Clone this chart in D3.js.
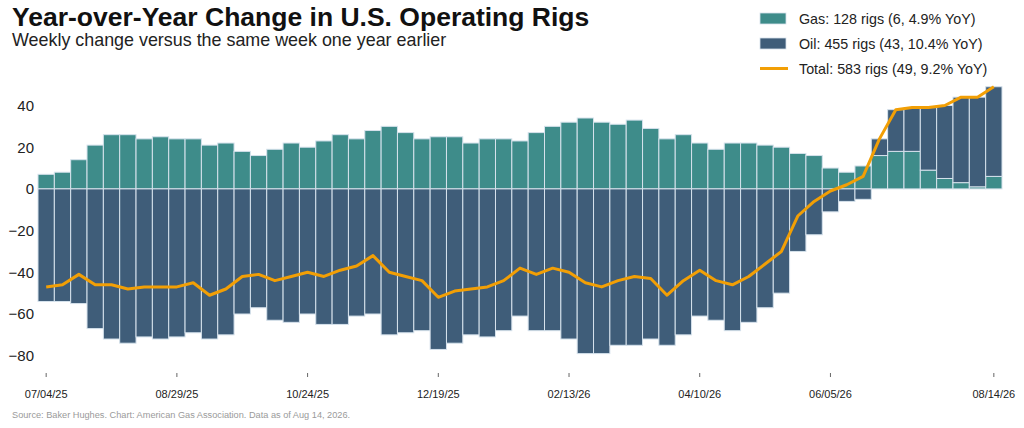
<!DOCTYPE html>
<html>
<head>
<meta charset="utf-8">
<script src="https://cdn.jsdelivr.net/npm/d3@7"></script>
<style>
  body { margin: 0; background: #fff; }
  svg { display: block; font-family: 'Liberation Sans', Arial, sans-serif; }
  .chart-title { font-size: 26.5px; font-weight: bold; fill: #111; }
  .chart-subtitle { font-size: 17.9px; fill: #222; }
  .legend-label { font-size: 14.3px; fill: #222; }
  .axis text { fill: #222; }
  .source { font-size: 9.2px; fill: #9a9a9a; }
</style>
</head>
<body>
<div id="chart"></div>
<script>
// weekly dates, 07/04/25 .. 08/14/26
const weeks = d3.range(59).map((i) => d3.timeWeek.offset(new Date(2025, 6, 4), i));

const gasChange = [
  7, 8, 14, 21, 26, 26, 24, 25, 24, 24,
  21, 22, 18, 16, 19, 22, 20, 23, 26, 24,
  28, 30, 27, 24, 25, 25, 22, 24, 24, 23,
  27, 30, 32, 34, 32, 31, 33, 29, 24, 26,
  22, 19, 22, 22, 21, 20, 17, 16, 10, 8,
  11, 16, 18, 18, 9, 5, 3, 1, 6,
];

const oilChange = [
  -54, -54, -55, -67, -72, -74, -71, -72, -71, -69,
  -72, -70, -60, -57, -63, -64, -60, -65, -65, -61,
  -60, -70, -69, -68, -77, -74, -70, -71, -68, -61,
  -68, -68, -72, -79, -79, -75, -75, -72, -75, -70,
  -61, -63, -68, -64, -57, -50, -30, -22, -11, -6,
  -5, 8, 20, 21, 30, 35, 41, 43, 43,
];

const totalChange = [
  -47, -46, -41, -46, -46, -48, -47, -47, -47, -45,
  -51, -48, -42, -41, -44, -42, -40, -42, -39, -37,
  -32, -40, -42, -44, -52, -49, -48, -47, -44, -38,
  -41, -38, -40, -45, -47, -44, -42, -43, -51, -44,
  -39, -44, -46, -42, -36, -30, -13, -6, -1, 2,
  6, 24, 38, 39, 39, 40, 44, 44, 49,
];

const yTicks = [-80, -60, -40, -20, 0, 20, 40];
const xTickIdx = [0, 8, 16, 24, 32, 40, 48, 58];

const legendItems = [
  { label: 'Gas: 128 rigs (6, 4.9% YoY)', type: 'rect', color: '#3e8c8a' },
  { label: 'Oil: 455 rigs (43, 10.4% YoY)', type: 'rect', color: '#3f5d79' },
  { label: 'Total: 583 rigs (49, 9.2% YoY)', type: 'line', color: '#f29f05' },
];

const width = 1024;
const height = 428;
const colors = { gas: '#3e8c8a', oil: '#3f5d79', total: '#f29f05' };

const rows = weeks.map((d, i) => ({
  date: d,
  gas: gasChange[i],
  oil: oilChange[i],
  total: totalChange[i],
}));

const svg = d3.select('#chart')
  .append('svg')
  .attr('width', width)
  .attr('height', height);

const xScale = d3.scaleBand()
  .domain(rows.map((d) => d.date))
  .range([38, 1002])
  .padding(0);

const yScale = d3.scaleLinear()
  .domain([-80, 40])
  .range([355.7, 105.5]);

// bars
const barG = svg.append('g');

barG.selectAll('.bar-gas')
  .data(rows)
  .join('rect')
  .attr('class', 'bar-gas')
  .attr('x', (d) => xScale(d.date))
  .attr('width', xScale.bandwidth())
  .attr('y', (d) => yScale(Math.max(0, d.gas)))
  .attr('height', (d) => Math.abs(yScale(d.gas) - yScale(0)))
  .attr('fill', colors.gas)
  .attr('stroke', '#d6e2ec')
  .attr('stroke-width', 1);

barG.selectAll('.bar-oil')
  .data(rows)
  .join('rect')
  .attr('class', 'bar-oil')
  .attr('x', (d) => xScale(d.date))
  .attr('width', xScale.bandwidth())
  .attr('y', (d) => (d.oil >= 0 ? yScale(d.gas + d.oil) : yScale(0)))
  .attr('height', (d) => Math.abs(yScale(d.oil) - yScale(0)))
  .attr('fill', colors.oil)
  .attr('stroke', '#d6e2ec')
  .attr('stroke-width', 1);

// total line
const line = d3.line()
  .x((d) => xScale(d.date) + xScale.bandwidth() / 2)
  .y((d) => yScale(d.total));

svg.append('path')
  .datum(rows)
  .attr('fill', 'none')
  .attr('stroke', colors.total)
  .attr('stroke-width', 3)
  .attr('stroke-linejoin', 'round')
  .attr('d', line);

// y axis
const yAxisG = svg.append('g')
  .attr('class', 'axis axis-y')
  .attr('transform', 'translate(34,0)')
  .call(d3.axisLeft(yScale)
    .tickValues(yTicks)
    .tickSize(0)
    .tickPadding(0)
    .tickFormat((d) => (d < 0 ? `\u2212${Math.abs(d)}` : `${d}`)));

yAxisG.select('.domain').remove();
yAxisG.selectAll('.tick text')
  .attr('font-size', '15px')
  .attr('font-family', 'Liberation Sans, Arial, sans-serif');

// x axis
const xAxisG = svg.append('g')
  .attr('class', 'axis axis-x')
  .attr('transform', 'translate(0,373)')
  .call(d3.axisBottom(xScale)
    .tickValues(xTickIdx.map((i) => weeks[i]))
    .tickSize(4)
    .tickPadding(13)
    .tickFormat(d3.timeFormat('%m/%d/%y')));

xAxisG.select('.domain').remove();
xAxisG.selectAll('.tick line').attr('stroke', '#666');
xAxisG.selectAll('.tick text')
  .attr('font-size', '11px')
  .attr('font-family', 'Liberation Sans, Arial, sans-serif');

// titles
svg.append('text')
  .attr('class', 'chart-title')
  .attr('x', 12)
  .attr('y', 26)
  .text('Year-over-Year Change in U.S. Operating Rigs');

svg.append('text')
  .attr('class', 'chart-subtitle')
  .attr('x', 12)
  .attr('y', 46)
  .text('Weekly change versus the same week one year earlier');

// legend
const legend = svg.append('g')
  .attr('transform', 'translate(760,13)');

const legendRows = legend.selectAll('g')
  .data(legendItems)
  .join('g')
  .attr('transform', (d, i) => `translate(0,${i * 25})`);

legendRows.filter((d) => d.type === 'rect')
  .append('rect')
  .attr('width', 26)
  .attr('height', 11)
  .attr('fill', (d) => d.color)
  .attr('stroke', '#d6e2ec')
  .attr('stroke-width', 0.8);

legendRows.filter((d) => d.type === 'line')
  .append('line')
  .attr('x1', 0)
  .attr('x2', 28)
  .attr('y1', 5.5)
  .attr('y2', 5.5)
  .attr('stroke', (d) => d.color)
  .attr('stroke-width', 3);

legendRows.append('text')
  .attr('class', 'legend-label')
  .attr('x', 39)
  .attr('y', 11)
  .text((d) => d.label);

svg.append('text')
  .attr('class', 'source')
  .attr('x', 12)
  .attr('y', 418)
  .text('Source: Baker Hughes. Chart: American Gas Association. Data as of Aug 14, 2026.');
</script>
</body>
</html>
